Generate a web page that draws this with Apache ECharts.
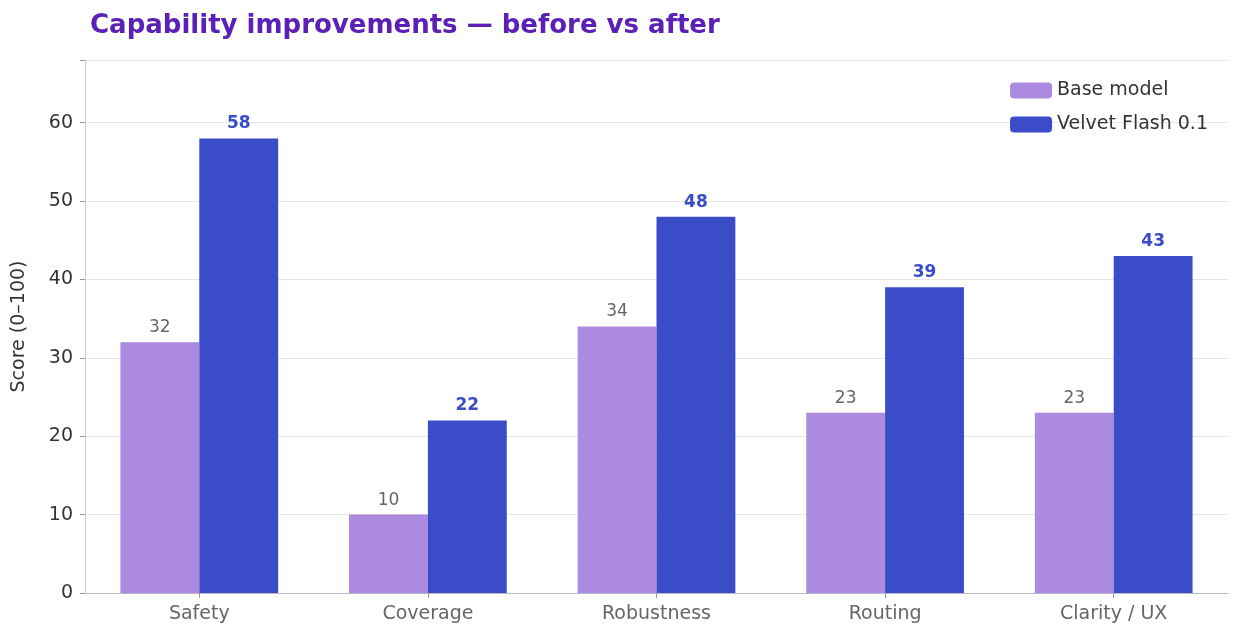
<!DOCTYPE html>
<html>
<head>
<meta charset="UTF-8">
<title>Capability improvements</title>
<script src="https://cdn.jsdelivr.net/npm/echarts@6/dist/echarts.min.js"></script>
<style>html,body{margin:0;padding:0;background:#fff}</style>
</head>
<body>
<div id="main" style="width:1243px;height:644px;"></div>
<script type="text/javascript">
    var categories = ['Safety', 'Coverage', 'Robustness', 'Routing', 'Clarity / UX'];
    var baseScores = [32, 10, 34, 23, 23];
    var velvetScores = [58, 22, 48, 39, 43];
    var seriesNames = ['Base model', 'Velvet Flash 0.1'];

    var font = 'DejaVu Sans';
    var myChart = echarts.init(document.getElementById('main'));

    var option = {
        textStyle: { fontFamily: font },
        title: {
            text: 'Capability improvements \u2014 before vs after',
            left: 85, top: 8,
            textStyle: { fontFamily: font, fontSize: 26, fontWeight: 'bold', color: '#5B21B6' }
        },
        legend: {
            data: seriesNames,
            orient: 'vertical',
            right: 30, top: 76,
            itemWidth: 42, itemHeight: 16, itemGap: 15,
            textStyle: { fontFamily: font, fontSize: 19, color: '#333' }
        },
        grid: { left: 85, right: 15, top: 60, bottom: 51 },
        xAxis: {
            type: 'category',
            data: categories,
            axisLine: { lineStyle: { color: '#b8b8c8' } },
            axisTick: { show: true, alignWithLabel: true, length: 5, lineStyle: { color: '#999' } },
            axisLabel: { fontSize: 19, color: '#666', margin: 12 }
        },
        yAxis: {
            type: 'value',
            min: 0, max: 68, interval: 10,
            name: 'Score (0\u2013100)',
            nameLocation: 'middle', nameGap: 56,
            nameTextStyle: { fontSize: 19, color: '#333' },
            axisLine: { show: true, lineStyle: { color: '#ccc' } },
            axisTick: { show: true, length: 5, lineStyle: { color: '#999' } },
            axisLabel: { fontSize: 19, color: '#333', margin: 12,
                formatter: function (v) { return v % 10 === 0 ? v : ''; } },
            splitLine: { lineStyle: { color: '#e6e6e6' } }
        },
        series: [
            {
                name: seriesNames[0], type: 'bar', data: baseScores,
                barGap: '0%', barCategoryGap: '31%',
                itemStyle: { color: '#AC8ADF' },
                label: { show: true, position: 'top', fontSize: 17, color: '#666', distance: 6 }
            },
            {
                name: seriesNames[1], type: 'bar', data: velvetScores,
                itemStyle: { color: '#3A4CC8' },
                label: { show: true, position: 'top', fontSize: 17, fontWeight: 'bold', color: '#3A4CC8', distance: 6 }
            }
        ]
    };
    myChart.setOption(option);
</script>
</body>
</html>
